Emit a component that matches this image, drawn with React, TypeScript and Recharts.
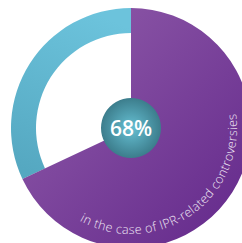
import React from "react";
import { PieChart, Pie, Cell } from "recharts";

const categories = ["IPR-related controversies", "Other"];
const shareValues = [68, 32];
const centerLabel = "68%";
const arcCaption = "in the case of IPR-related controversies";

const data = categories.map((name, i) => ({ name, value: shareValues[i] }));
const centerData = [{ name: "center", value: 1 }];

const CX = 131;
const CY = 128;
const R = 120;

function captionLabel(props: any) {
  const { cx, cy, index } = props;
  if (index !== 0) return null;
  const r = 106;
  const mid = 55.5;
  const half = 88;
  const a0 = ((mid + half) * Math.PI) / 180;
  const a1 = ((mid - half) * Math.PI) / 180;
  const x0 = cx + r * Math.cos(a0);
  const y0 = cy + r * Math.sin(a0);
  const x1 = cx + r * Math.cos(a1);
  const y1 = cy + r * Math.sin(a1);
  const d = `M ${x0} ${y0} A ${r} ${r} 0 0 0 ${x1} ${y1}`;
  return (
    <g>
      <defs>
        <path id="captionArc" d={d} fill="none" />
      </defs>
      <text
        fill="#efe6f4"
        fontSize={12.6}
        letterSpacing={0.35}
        fontFamily="'Open Sans', sans-serif"
        fontWeight={300}
      >
        <textPath href="#captionArc" startOffset="50%" textAnchor="middle">
          {arcCaption}
        </textPath>
      </text>
    </g>
  );
}

function centerText(props: any) {
  const { cx, cy } = props;
  return (
    <text
      x={cx}
      y={cy}
      textAnchor="middle"
      dominantBaseline="central"
      fill="#ffffff"
      fontSize={21}
      fontWeight={600}
      fontFamily="'Open Sans', sans-serif"
    >
      {centerLabel}
    </text>
  );
}

export default function App() {
  return (
    <div style={{ position: "absolute", left: 0, top: 0, width: 242, height: 243, background: "#fff" }}>
      <PieChart width={242} height={243} margin={{ top: 0, right: 0, bottom: 0, left: 0 }}>
        <defs>
          <linearGradient id="purpleGrad" x1="0" y1="0" x2="1" y2="1">
            <stop offset="0%" stopColor="#925eab" />
            <stop offset="100%" stopColor="#62278a" />
          </linearGradient>
          <linearGradient id="blueGrad" x1="0.6" y1="0" x2="0.3" y2="1">
            <stop offset="0%" stopColor="#6cc3dc" />
            <stop offset="100%" stopColor="#55a8c1" />
          </linearGradient>
          <radialGradient id="centerGrad" cx="0.5" cy="0.5" r="0.5">
            <stop offset="0%" stopColor="#66c0d3" />
            <stop offset="100%" stopColor="#3c7d8c" />
          </radialGradient>
        </defs>
        <Pie
          data={data}
          dataKey="value"
          cx={CX}
          cy={CY}
          innerRadius={95}
          outerRadius={R}
          startAngle={90}
          endAngle={-270}
          stroke="none"
          isAnimationActive={false}
        >
          {data.map((d, i) => (
            <Cell key={d.name} fill={i === 1 ? "url(#blueGrad)" : "transparent"} />
          ))}
        </Pie>
        <Pie
          data={data}
          dataKey="value"
          cx={CX}
          cy={CY}
          innerRadius={0}
          outerRadius={R}
          startAngle={90}
          endAngle={-270}
          stroke="none"
          isAnimationActive={false}
          label={captionLabel}
          labelLine={false}
        >
          {data.map((d, i) => (
            <Cell key={d.name} fill={i === 0 ? "url(#purpleGrad)" : "transparent"} />
          ))}
        </Pie>
        <Pie
          data={centerData}
          dataKey="value"
          cx={CX}
          cy={CY}
          innerRadius={0}
          outerRadius={30}
          stroke="none"
          fill="url(#centerGrad)"
          isAnimationActive={false}
          label={centerText}
          labelLine={false}
        />
      </PieChart>
    </div>
  );
}
